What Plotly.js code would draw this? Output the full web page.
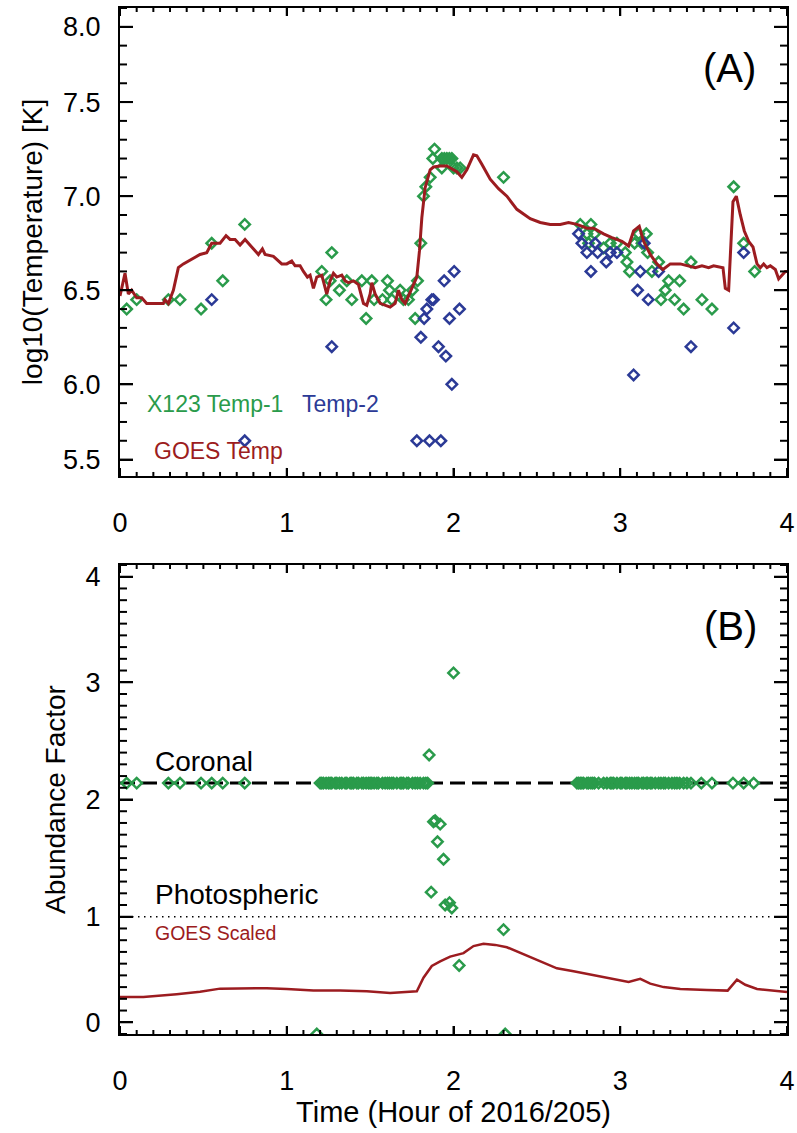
<!DOCTYPE html>
<html>
<head>
<meta charset="utf-8">
<script src="https://cdn.plot.ly/plotly-3.0.1.min.js"></script>
<style>html,body{margin:0;padding:0;background:#fff;}#chart{width:797px;height:1133px;}</style>
</head>
<body>
<div id="chart"></div>
<script>
// ---------- Panel A: temperatures ----------
const x123Temp1Time = [0.04,0.10,0.29,0.36,0.486,0.55,0.616,0.748,1.21,1.236,1.26,1.27,1.316,1.36,1.39,1.45,1.476,1.51,1.524,1.574,1.604,1.616,1.63,1.68,1.70,1.73,1.754,1.77,1.784,1.804,1.82,1.834,1.86,1.876,1.886,1.93,1.93,1.945,1.96,1.975,1.99,2.0,2.02,2.04,2.30,2.76,2.80,2.81,2.824,2.846,2.90,2.94,2.98,3.03,3.04,3.056,3.086,3.11,3.13,3.156,3.164,3.19,3.23,3.244,3.27,3.29,3.326,3.356,3.38,3.424,3.49,3.55,3.68,3.74,3.806];
const x123Temp1 = [6.40,6.45,6.45,6.45,6.40,6.75,6.55,6.85,6.60,6.45,6.55,6.70,6.50,6.55,6.45,6.55,6.35,6.55,6.45,6.45,6.55,6.50,6.45,6.50,6.45,6.45,6.50,6.35,6.55,6.75,7.00,7.05,7.10,7.20,7.25,7.20,7.15,7.20,7.20,7.20,7.20,7.15,7.15,7.15,7.10,6.85,6.80,6.75,6.85,6.80,6.725,6.75,6.75,6.70,6.65,6.60,6.75,6.80,6.75,6.80,6.70,6.60,6.65,6.45,6.50,6.55,6.45,6.55,6.40,6.65,6.45,6.40,7.05,6.75,6.60];

const temp2Time = [0.55,0.748,1.27,1.78,1.804,1.824,1.84,1.856,1.87,1.88,1.91,1.924,1.944,1.954,1.976,1.99,2.004,2.036,2.75,2.77,2.80,2.824,2.85,2.864,2.916,2.94,2.98,3.08,3.104,3.12,3.144,3.168,3.23,3.424,3.68,3.74];
const temp2 = [6.45,5.70,6.20,5.70,6.25,6.35,6.40,5.70,6.45,6.45,6.20,5.70,6.55,6.15,6.35,6.00,6.60,6.40,6.80,6.75,6.70,6.60,6.75,6.70,6.65,6.70,6.70,6.05,6.50,6.60,6.75,6.45,6.60,6.20,6.30,6.70];

const goesTempTime = [0,0.03,0.05,0.07,0.10,0.13,0.16,0.26,0.27,0.29,0.32,0.35,0.38,0.42,0.48,0.52,0.55,0.60,0.636,0.66,0.69,0.72,0.75,0.79,0.83,0.854,0.87,0.92,0.97,1.0,1.03,1.05,1.08,1.10,1.124,1.14,1.16,1.18,1.21,1.24,1.26,1.28,1.30,1.33,1.35,1.37,1.40,1.43,1.46,1.48,1.50,1.51,1.53,1.56,1.59,1.62,1.65,1.67,1.69,1.71,1.73,1.75,1.78,1.796,1.81,1.83,1.86,1.88,1.92,1.96,1.98,2.02,2.05,2.08,2.12,2.14,2.17,2.22,2.27,2.32,2.38,2.46,2.52,2.58,2.64,2.69,2.74,2.80,2.84,2.90,2.95,3.01,3.05,3.08,3.114,3.14,3.18,3.22,3.256,3.30,3.36,3.41,3.45,3.49,3.53,3.56,3.616,3.63,3.65,3.676,3.696,3.72,3.744,3.77,3.796,3.82,3.84,3.86,3.88,3.90,3.93,3.95,3.97,3.99,4.0];
const goesTemp = [6.47,6.59,6.48,6.50,6.46,6.46,6.43,6.43,6.45,6.43,6.50,6.62,6.64,6.66,6.69,6.70,6.75,6.75,6.79,6.77,6.77,6.74,6.77,6.73,6.69,6.72,6.69,6.68,6.64,6.64,6.655,6.63,6.63,6.60,6.57,6.58,6.51,6.57,6.58,6.48,6.55,6.59,6.57,6.58,6.55,6.54,6.55,6.53,6.43,6.42,6.48,6.54,6.48,6.43,6.42,6.41,6.43,6.50,6.45,6.43,6.47,6.51,6.57,6.71,6.885,7.045,7.14,7.155,7.16,7.16,7.15,7.13,7.10,7.14,7.22,7.215,7.17,7.09,7.04,7.00,6.93,6.88,6.86,6.85,6.85,6.86,6.85,6.83,6.83,6.80,6.78,6.76,6.735,6.815,6.84,6.76,6.69,6.64,6.61,6.64,6.64,6.63,6.62,6.63,6.62,6.63,6.62,6.51,6.50,6.97,7.00,6.90,6.815,6.76,6.73,6.64,6.62,6.64,6.62,6.63,6.61,6.56,6.58,6.60,6.60];

// ---------- Panel B: abundance factor ----------
const abundTime = [0.04,0.10,0.29,0.36,0.486,0.55,0.616,0.748,
 1.18,1.20,1.21,1.22,1.236,1.25,1.26,1.27,1.29,1.30,1.316,1.33,1.35,1.36,1.38,1.39,1.40,1.42,1.43,1.45,1.46,1.476,1.49,1.50,1.51,1.524,1.54,1.55,1.574,1.59,1.604,1.616,1.63,1.64,1.66,1.68,1.69,1.70,1.72,1.73,1.754,1.77,1.784,1.80,1.82,1.834,1.845,
 1.854,1.866,1.88,1.89,1.904,1.92,1.94,1.95,1.976,1.99,2.0,2.034,2.30,2.31,
 2.74,2.75,2.76,2.77,2.78,2.80,2.81,2.824,2.835,2.846,2.87,2.90,2.92,2.94,2.95,2.96,2.98,3.0,3.01,3.03,3.04,3.056,3.07,3.086,3.10,3.11,3.13,3.14,3.156,3.164,3.18,3.19,3.21,3.23,3.244,3.26,3.27,3.29,3.31,3.326,3.34,3.356,3.38,3.40,3.424,3.486,3.55,3.676,3.74,3.80];
const abundFactor = [2.14,2.14,2.14,2.14,2.14,2.14,2.14,2.14,
 0.0,2.14,2.14,2.14,2.14,2.14,2.14,2.14,2.14,2.14,2.14,2.14,2.14,2.14,2.14,2.14,2.14,2.14,2.14,2.14,2.14,2.14,2.14,2.14,2.14,2.14,2.14,2.14,2.14,2.14,2.14,2.14,2.14,2.14,2.14,2.14,2.14,2.14,2.14,2.14,2.14,2.14,2.14,2.14,2.14,2.14,2.14,
 2.38,1.21,1.81,1.82,1.64,1.79,1.49,1.10,1.12,1.075,3.08,0.585,0.89,0.0,
 2.14,2.14,2.14,2.14,2.14,2.14,2.14,2.14,2.14,2.14,2.14,2.14,2.14,2.14,2.14,2.14,2.14,2.14,2.14,2.14,2.14,2.14,2.14,2.14,2.14,2.14,2.14,2.14,2.14,2.14,2.14,2.14,2.14,2.14,2.14,2.14,2.14,2.14,2.14,2.14,2.14,2.14,2.14,2.14,2.14,2.14,2.14,2.14,2.14,2.14];

const goesScaledTime = [0,0.14,0.34,0.48,0.60,0.74,0.88,1.0,1.16,1.32,1.48,1.62,1.78,1.82,1.87,1.92,1.98,2.06,2.12,2.18,2.25,2.32,2.42,2.52,2.62,2.72,2.82,2.92,3.0,3.05,3.12,3.18,3.26,3.36,3.52,3.644,3.70,3.75,3.82,3.92,4.0];
const goesScaled = [0.316,0.316,0.34,0.36,0.387,0.39,0.39,0.384,0.372,0.372,0.364,0.35,0.364,0.48,0.58,0.62,0.66,0.69,0.75,0.77,0.76,0.74,0.68,0.62,0.56,0.535,0.506,0.48,0.455,0.444,0.47,0.43,0.40,0.384,0.375,0.37,0.463,0.42,0.384,0.37,0.358];

const coronalLevel = 2.14;
const photosphericLevel = 1.0;

const yTickValsA = [5.6,6.0,6.5,7.0,7.5,7.9];
const yTickTextA = ['5.5','6.0','6.5','7.0','7.5','8.0'];
const yTickValsB = [0.1,1,2,3,3.9];
const yTickTextB = ['0','1','2','3','4'];
const xTickVals = [0,1,2,3,4];
const xTickText = ['0','1','2','3','4'];
const rangeA = [5.513, 8.0];
const rangeB = [0, 4];
const rangeX = [0, 4];

// ---------- styling ----------
const GREEN = '#2a9b4b';
const BLUE = '#2b3a96';
const RED = '#9c1c20';
const FONT = 'Liberation Sans, Arial, Helvetica, sans-serif';
const DOM_A = [0.5439, 1];
const DOM_B = [0, 0.4571];

// tick positions every 0.1 inside a range (axis furniture, not data)
function steps(lo, hi) {
  const out = [];
  for (let k = Math.ceil(lo * 10 - 1e-6); k <= Math.floor(hi * 10 + 1e-6); k++) out.push(+(k / 10).toFixed(1));
  return out;
}
const isIn = (v, arr) => arr.some(a => Math.abs(a - v) < 1e-6);

// inside tick marks on all four sides of a panel, drawn as pixel-length lines
function tickMarks(xr, yr, yRange, yMajor) {
  const s = [];
  const ln = (o) => Object.assign({type:'line', layer:'above', line:{color:'#000', width:2}}, o);
  steps(rangeX[0], rangeX[1]).forEach(t => {
    const len = isIn(t, xTickVals) ? 8 : 4;
    s.push(ln({xref:xr, yref:yr + ' domain', x0:t, x1:t, ysizemode:'pixel', yanchor:0, y0:0, y1:len}));
    s.push(ln({xref:xr, yref:yr + ' domain', x0:t, x1:t, ysizemode:'pixel', yanchor:1, y0:0, y1:-len}));
  });
  steps(yRange[0], yRange[1]).forEach(v => {
    const len = isIn(v, yMajor) ? 13 : 7;
    s.push(ln({xref:xr + ' domain', yref:yr, y0:v, y1:v, xsizemode:'pixel', xanchor:0, x0:0, x1:len}));
    s.push(ln({xref:xr + ' domain', yref:yr, y0:v, y1:v, xsizemode:'pixel', xanchor:1, x0:0, x1:-len}));
  });
  return s;
}

const diamond = (c) => ({symbol:'diamond-open', size:8, color:c, line:{color:c, width:2.5}});

const traces = [
  {x:x123Temp1Time, y:x123Temp1, mode:'markers', marker:diamond(GREEN), xaxis:'x', yaxis:'y', name:'X123 Temp-1'},
  {x:temp2Time, y:temp2, mode:'markers', marker:diamond(BLUE), xaxis:'x', yaxis:'y', name:'Temp-2'},
  {x:goesTempTime, y:goesTemp, mode:'lines', line:{color:RED, width:3}, xaxis:'x', yaxis:'y', name:'GOES Temp'},
  {x:abundTime, y:abundFactor, mode:'markers', marker:diamond(GREEN), xaxis:'x2', yaxis:'y2', name:'Abundance'},
  {x:goesScaledTime, y:goesScaled, mode:'lines', line:{color:RED, width:2.5}, xaxis:'x2', yaxis:'y2', name:'GOES Scaled'}
];

function xAxis(anchor, title) {
  const a = {
    anchor: anchor, range:rangeX, tickmode:'array', tickvals:xTickVals, ticktext:xTickText,
    ticks:'inside', ticklen:8, tickwidth:2, tickcolor:'#000',
    showline:true, linewidth:2, linecolor:'#000', mirror:'ticks', showgrid:false, zeroline:false,
    tickfont:{family:FONT, size:27, color:'#000'}, ticklabelstandoff:22
  };
  if (title) a.title = {text:title, font:{family:FONT, size:29, color:'#000'}, standoff:2};
  return a;
}
function yAxis(anchor, domain, range, tv, tt, title) {
  return {
    anchor: anchor, domain: domain, range: range, tickmode:'array', tickvals:tv, ticktext:tt,
    ticks:'inside', ticklen:13, tickwidth:2, tickcolor:'#000',
    showline:true, linewidth:2, linecolor:'#000', mirror:'ticks', showgrid:false, zeroline:false,
    tickfont:{family:FONT, size:27, color:'#000'}, ticklabelstandoff:12,
    title:{text:title, font:{family:FONT, size:28, color:'#000'}, standoff:12}
  };
}

const ann = (x, y, xr, yr, text, size, color, xanchor) => ({
  x:x, y:y, xref:xr, yref:yr, text:text, showarrow:false, xanchor:xanchor||'left', yanchor:'middle',
  font:{family:FONT, size:size, color:color}
});

const layout = {
  width:797, height:1133, margin:{l:120, r:10, t:8, b:99, autoexpand:false},
  paper_bgcolor:'#fff', plot_bgcolor:'#fff', showlegend:false,
  xaxis: xAxis('y', null),
  yaxis: yAxis('x', DOM_A, rangeA, yTickValsA, yTickTextA, 'log10(Temperature) [K]'),
  xaxis2: xAxis('y2', 'Time (Hour of 2016/205)'),
  yaxis2: yAxis('x2', DOM_B, rangeB, yTickValsB, yTickTextB, 'Abundance Factor'),
  shapes:[
    {type:'line', xref:'x2 domain', yref:'y2', x0:0, x1:1, y0:coronalLevel, y1:coronalLevel, layer:'below', line:{color:'#000', width:3, dash:'15px,7px'}},
    {type:'line', xref:'x2 domain', yref:'y2', x0:0, x1:1, y0:photosphericLevel, y1:photosphericLevel, layer:'below', line:{color:'#000', width:1.5, dash:'1.5px,4.5px'}}
  ].concat(tickMarks('x', 'y', rangeA, yTickValsA), tickMarks('x2', 'y2', rangeB, yTickValsB)),
  annotations:[
    ann(0.15, 5.895, 'x', 'y', 'X123 Temp-1', 23, GREEN),
    ann(1.08, 5.895, 'x', 'y', 'Temp-2', 23, BLUE),
    ann(0.19, 5.646, 'x', 'y', 'GOES Temp', 23, RED),
    ann(3.655, 7.68, 'x', 'y', '(A)', 40, '#000', 'center'),
    ann(0.20, 2.326, 'x2', 'y2', 'Coronal', 28, '#000'),
    ann(0.20, 1.189, 'x2', 'y2', 'Photospheric', 28, '#000'),
    ann(0.20, 0.864, 'x2', 'y2', 'GOES Scaled', 19.5, RED),
    ann(3.66, 3.478, 'x2', 'y2', '(B)', 40, '#000', 'center')
  ]
};

Plotly.newPlot('chart', traces, layout, {displayModeBar:false, staticPlot:true});
</script>
</body>
</html>
